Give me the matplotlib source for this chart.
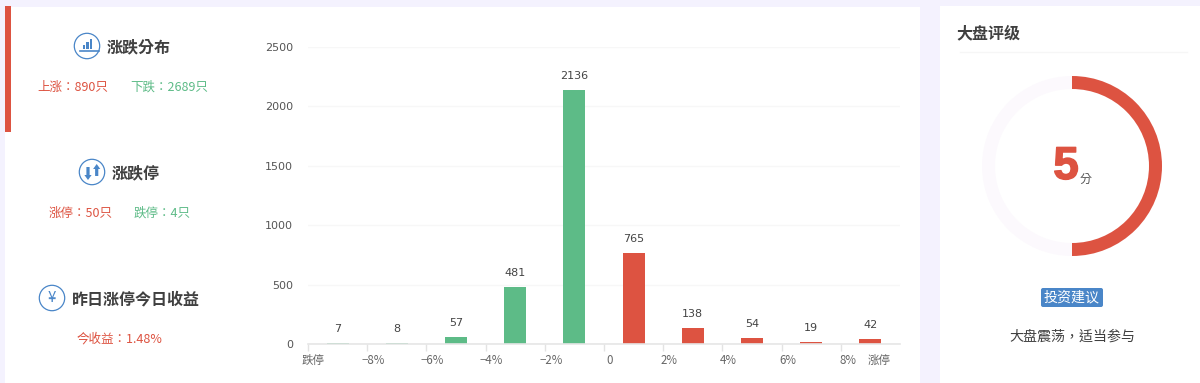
import matplotlib
matplotlib.use('Agg')
import matplotlib.pyplot as plt
import matplotlib.patheffects as pe
from matplotlib.patches import Circle, Rectangle, FancyBboxPatch, Polygon
from matplotlib.transforms import ScaledTranslation

plt.rcParams['font.family'] = ['Noto Sans CJK TC', 'DejaVu Sans']

# данные гистограммы
counts = [7, 8, 57, 481, 2136, 765, 138, 54, 19, 42]
bar_colors = ['#5dbb87'] * 5 + ['#dd5341'] * 5
x_labels = ['跌停', '−8%', '−6%', '−4%', '−2%', '0', '2%', '4%', '6%', '8%', '涨停']
y_ticks = [0, 500, 1000, 1500, 2000, 2500]
label_shift = [5, 6, 6, 6, 6, 5.5, 6, 6, 6, 7, -21]

score = 5
score_max = 10

red = '#dd5341'
green = '#5dbb87'
blue = '#4a86c8'
dark = '#404040'
W, H = 1200, 383

fig = plt.figure(figsize=(12, 3.83), dpi=100, facecolor='#f4f2fe')

# слой с панелями, координаты в пикселях
bg = fig.add_axes([0, 0, 1, 1])
bg.set_xlim(0, W)
bg.set_ylim(H, 0)
bg.axis('off')
bg.add_patch(Rectangle((5, 7), 915, 376, color='white', lw=0))
bg.add_patch(Rectangle((940, 6), 260, 377, color='white', lw=0))
bg.add_patch(Rectangle((5, 6), 6, 126, color=red, lw=0))
bg.plot([960, 1187], [52, 52], color='#f6f6f6', lw=1)


def px(size):
    return size * 0.72


def icon(x, y):
    bg.add_patch(Circle((x, y), 12.7, fill=False, ec=blue, lw=0.9))


def arrow(x, tail, tip):
    # стрелка из стержня и головки
    d = 1 if tip > tail else -1
    neck = tip - d * 5
    bg.add_patch(Polygon([(x - 1.6, tail), (x + 1.6, tail), (x + 1.6, neck), (x + 3.6, neck),
                          (x, tip), (x - 3.6, neck), (x - 1.6, neck)], color=blue, lw=0))


# иконка распределения
icon(87, 46)
for x0, h in [(84, 4), (87.5, 7), (91, 10)]:
    bg.add_patch(Rectangle((x0 - 1.1, 49 - h), 2.2, h, color=blue, lw=0))
bg.plot([79.5, 99], [51, 51], color=blue, lw=1.2)

# иконка стрелок
icon(92, 172)
arrow(88, 167, 180)
arrow(96.7, 176, 164)

# иконка юаня
icon(52, 298)
bg.text(51.5, 298, '¥', color=blue, fontsize=px(15), ha='center', va='center')


def txt(x, y, s, color=dark, size=12.5, weight='normal', ha='center'):
    bg.text(x, y, s, color=color, fontsize=px(size), fontweight=weight, ha=ha, va='center')


txt(138.5, 47, '涨跌分布', size=16, weight='bold')
txt(72.5, 87, '上涨：890只', red)
txt(169, 87, '下跌：2689只', green)
txt(135.5, 173, '涨跌停', size=16, weight='bold')
txt(80.5, 213, '涨停：50只', red)
txt(162.5, 213, '跌停：4只', green)
txt(136, 299, '昨日涨停今日收益', size=16, weight='bold')
txt(119.5, 339.5, '今收益：1.48%', red)

# правая панель
txt(988, 33, '大盘评级', size=16, weight='bold')
bg.add_patch(FancyBboxPatch((1041, 288), 62, 19, boxstyle='round,pad=0,rounding_size=2', color=blue, lw=0))
txt(1072, 297.5, '投资建议', 'white', 14)
txt(1072, 336.5, '大盘震荡，适当参与', dark, 14)

# гистограмма
ax = fig.add_axes([308 / W, (H - 344) / H, 592 / W, 297 / H])
ax.patch.set_alpha(0)
ax.bar(range(len(counts)), counts, width=0.37, color=bar_colors, zorder=2)
ax.set_xlim(-0.5, len(counts) - 0.5)
ax.set_ylim(0, y_ticks[-1])
for s in ['top', 'right', 'left']:
    ax.spines[s].set_visible(False)
ax.spines['bottom'].set_color('#e6e6e6')
ax.spines['bottom'].set_linewidth(1.2)
ax.spines['bottom'].set_zorder(5)
ax.set_yticks(y_ticks)
ax.set_yticklabels([str(v) for v in y_ticks], family='DejaVu Sans', fontsize=8, color='#555555')
ax.tick_params(axis='y', length=0, pad=10.8)
ax.grid(axis='y', color='#f7f7f7', lw=1, zorder=0)
ax.set_xticks([i - 0.5 for i in range(len(x_labels))])
ax.set_xticklabels(x_labels, fontsize=px(11.5), color='#666666')
ax.tick_params(axis='x', length=5, width=1, color='#e3e3e3', pad=2)
ax.xaxis.get_major_ticks()[-1].tick1line.set_visible(False)
for lab, dx in zip(ax.get_xticklabels(), label_shift):
    lab.set_transform(lab.get_transform() + ScaledTranslation(dx / 100, 0, fig.dpi_scale_trans))
for i, v in enumerate(counts):
    ax.annotate(str(v), (i, v), xytext=(0, 10), textcoords='offset points', ha='center', va='center',
                family='DejaVu Sans', fontsize=8, color='#444444')

# кольцо оценки
r_ax = fig.add_axes([(1072 - 90) / W, (H - 256) / H, 180 / W, 180 / H])
r_ax.pie([1], radius=1, colors=['#fcf9fd'], startangle=90, wedgeprops=dict(width=13 / 90, lw=0))
r_ax.pie([score, score_max - score], radius=1, colors=[red, 'none'], startangle=90, counterclock=False,
         wedgeprops=dict(width=13 / 90, lw=0))
r_ax.set_xlim(-1, 1)
r_ax.set_ylim(-1, 1)
r_ax.axis('off')

five = bg.text(1066, 167, str(score), color=red, family='Liberation Sans', fontweight='bold', fontsize=px(46),
               ha='center', va='center')
five.set_path_effects([pe.withStroke(linewidth=1, foreground=red)])
txt(1085.5, 179, '分', '#555555', 12)

fig.savefig('out.png', dpi=100, facecolor=fig.get_facecolor())
